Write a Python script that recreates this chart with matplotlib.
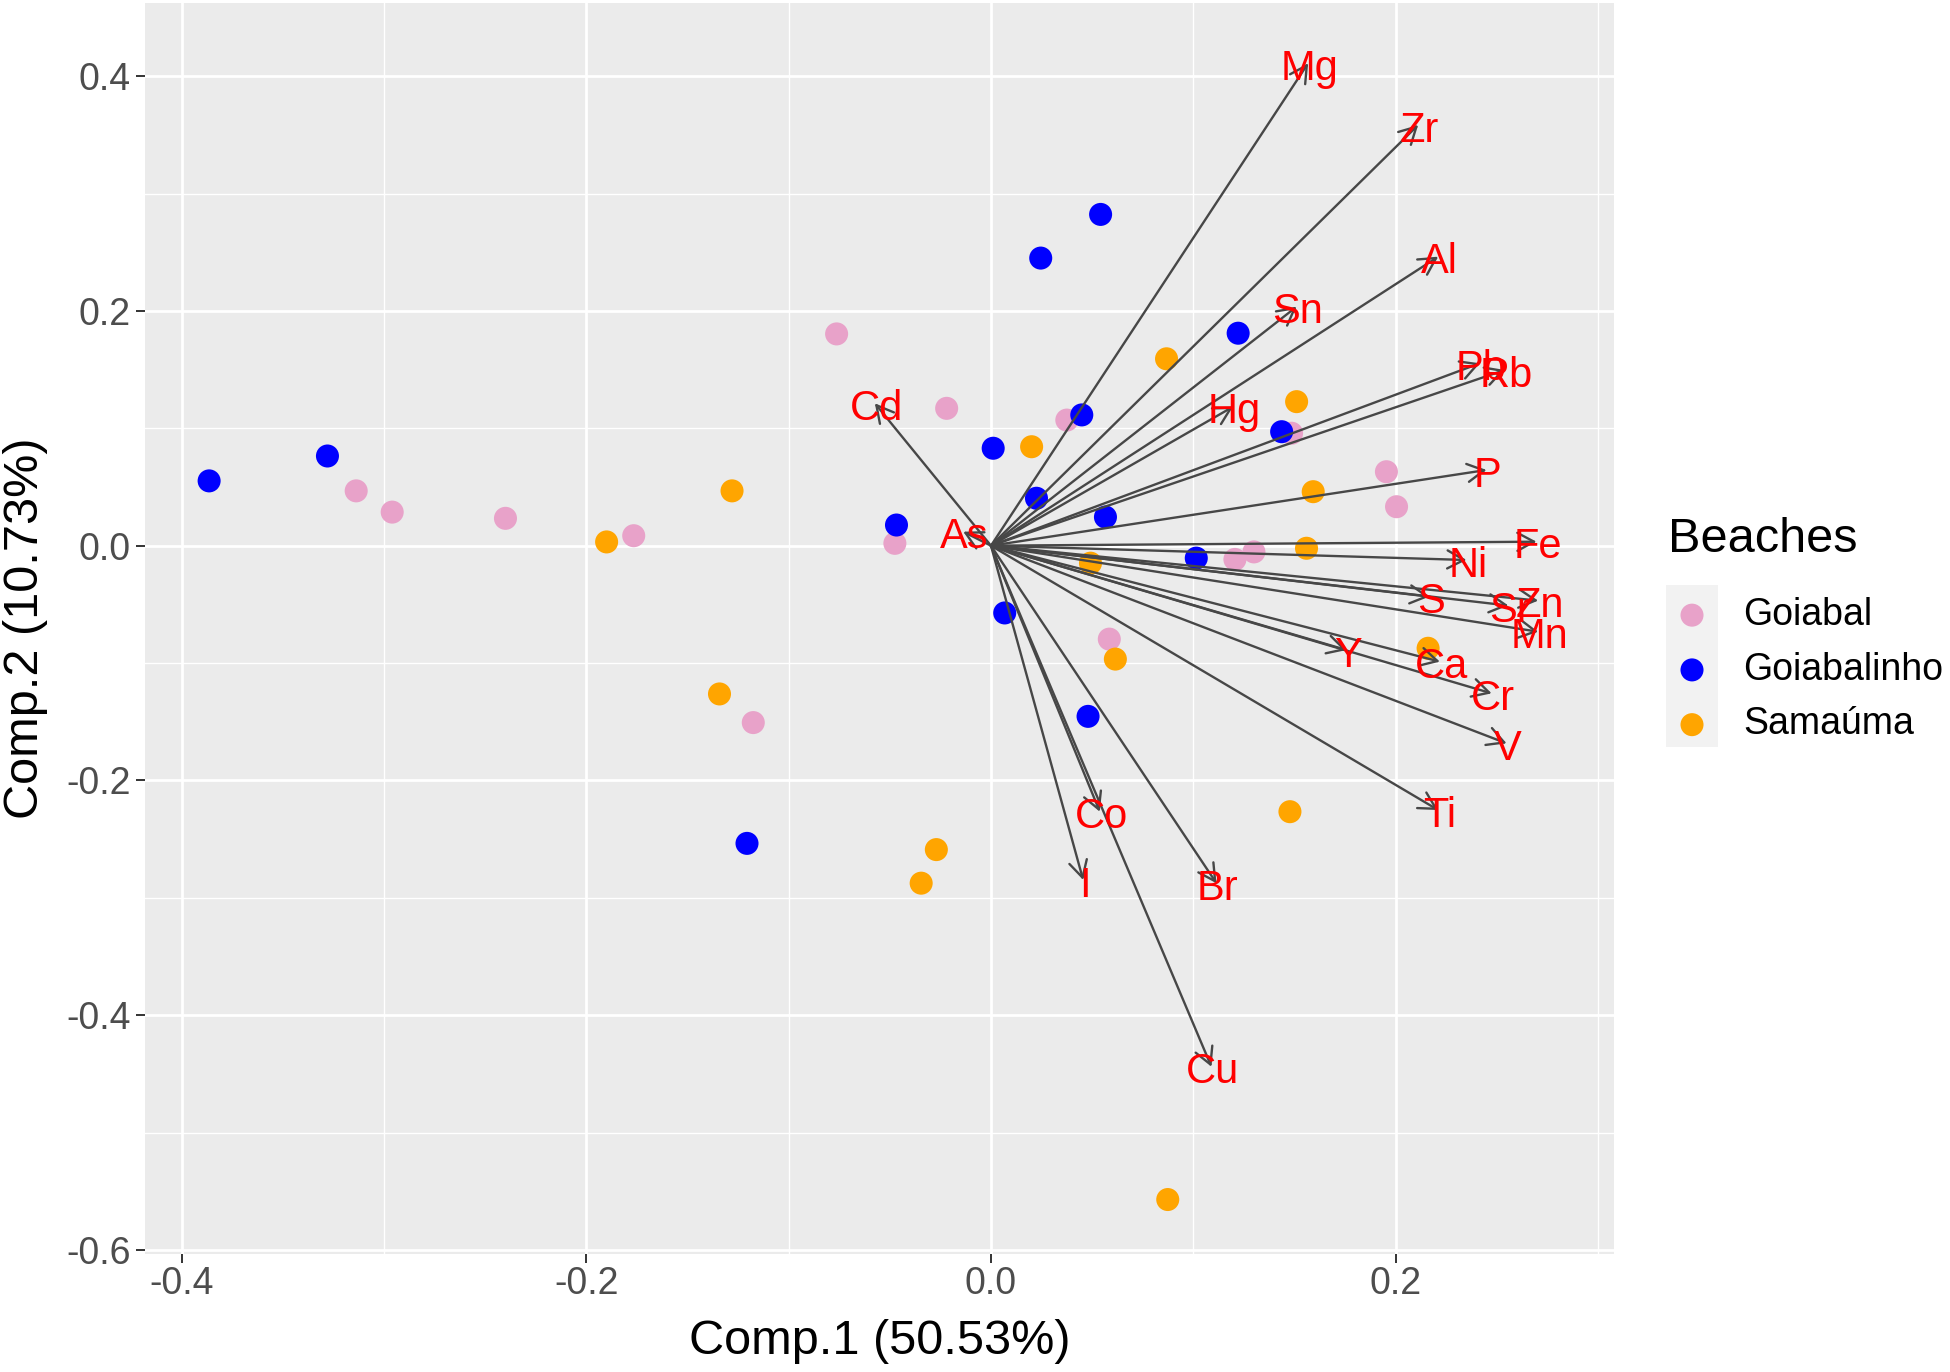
import matplotlib
matplotlib.use("Agg")
import matplotlib.pyplot as plt
from matplotlib.patches import FancyArrowPatch, Rectangle
import numpy as np

plt.rcParams['font.family'] = ['Liberation Sans', 'DejaVu Sans']

# ---------------- data ----------------
beaches = ["Goiabal", "Goiabalinho", "Samaúma"]
beach_colors = ["#E8A2C9", "#0000FF", "#FFA500"]

goiabal_x = [-0.3138, -0.296, -0.240, -0.1766, -0.0763, -0.0219, -0.0475, -0.1175,
             0.0375, 0.1486, 0.1955, 0.2005, 0.1206, 0.130, 0.0585]
goiabal_y = [0.0467, 0.0286, 0.0233, 0.0085, 0.1804, 0.117, 0.002, -0.1507,
             0.107, 0.0958, 0.063, 0.0332, -0.0117, -0.0053, -0.0796]

goiabalinho_x = [-0.3865, -0.328, -0.0467, 0.0011, 0.0246, 0.0542, 0.0449, 0.0225,
                 0.0566, 0.1222, 0.1437, 0.1015, 0.0068, 0.048, -0.1206]
goiabalinho_y = [0.0552, 0.0764, 0.0176, 0.083, 0.245, 0.2822, 0.1114, 0.0404,
                 0.0244, 0.181, 0.0971, -0.0106, -0.0573, -0.1454, -0.2536]

samauma_x = [-0.190, -0.128, -0.1342, -0.027, -0.0345, 0.0201, 0.0868, 0.1511,
             0.1593, 0.156, 0.0492, 0.0615, 0.2161, 0.1478, 0.0874]
samauma_y = [0.0032, 0.0467, -0.1263, -0.2589, -0.2875, 0.0843, 0.1592, 0.1227,
             0.046, -0.0022, -0.0149, -0.0966, -0.0874, -0.2266, -0.557]

elements = ["Mg", "Zr", "Al", "Sn", "Hg", "Pb", "Rb", "P", "Fe", "Ni", "S", "Sr",
            "Zn", "Mn", "Y", "Ca", "Cr", "V", "Ti", "Co", "I", "Br", "Cu", "Cd", "As"]
load_x = [0.1568, 0.2112, 0.2211, 0.1511, 0.1197, 0.2417, 0.2540, 0.2450, 0.2697,
          0.2351, 0.2167, 0.2558, 0.2705, 0.2705, 0.1758, 0.2219, 0.2475, 0.2549,
          0.2211, 0.0538, 0.0456, 0.1115, 0.1090, -0.0574, -0.0137]
load_y = [0.4110, 0.3584, 0.2462, 0.2036, 0.1184, 0.1554, 0.1497, 0.0645, 0.0034,
          -0.0122, -0.0434, -0.0510, -0.0468, -0.0733, -0.0889, -0.0988, -0.1258,
          -0.1684, -0.2252, -0.2266, -0.2848, -0.2876, -0.4439, 0.1213, 0.0119]

x_title = "Comp.1 (50.53%)"
y_title = "Comp.2 (10.73%)"
legend_title = "Beaches"
x_ticks = [-0.4, -0.2, 0.0, 0.2]
y_ticks = [-0.6, -0.4, -0.2, 0.0, 0.2, 0.4]
x_minor = [-0.3, -0.1, 0.1, 0.3]
y_minor = [-0.5, -0.3, -0.1, 0.1, 0.3]

# ---------------- figure ----------------
W, H = 1950, 1372
fig = plt.figure(figsize=(W / 100, H / 100), dpi=100)
ax = fig.add_axes([145 / W, 1 - 1254 / H, (1614 - 145) / W, (1254 - 3) / H])
ax.set_facecolor("#EBEBEB")
for s in ax.spines.values():
    s.set_visible(False)

ax.set_xlim(-0.4182, 0.308)
ax.set_ylim(-0.6034, 0.4623)
ax.set_xticks(x_ticks)
ax.set_yticks(y_ticks)
ax.set_xticks(x_minor, minor=True)
ax.set_yticks(y_minor, minor=True)
ax.set_xticklabels([f"{v:.1f}" for v in x_ticks])
ax.set_yticklabels([f"{v:.1f}" for v in y_ticks])
ax.grid(which="major", color="white", linewidth=2.0)
ax.grid(which="minor", color="white", linewidth=1.0)
ax.set_axisbelow(True)
ax.tick_params(which="major", length=6.5, width=1.4, color="#333333",
               labelsize=27, labelcolor="#4D4D4D")
ax.tick_params(axis="x", which="major", pad=2)
ax.tick_params(axis="y", which="major", pad=4)
ax.tick_params(which="minor", length=0)

groups_x = [goiabal_x, goiabalinho_x, samauma_x]
groups_y = [goiabal_y, goiabalinho_y, samauma_y]
handles = []
for name, col, gx, gy in zip(beaches, beach_colors, groups_x, groups_y):
    h = ax.scatter(gx, gy, s=275, color=col, edgecolors="none", zorder=2, label=name)
    handles.append(h)

for name, lx, ly in zip(elements, load_x, load_y):
    arr = FancyArrowPatch((0, 0), (lx, ly),
                          arrowstyle="->,head_length=12,head_width=6.5",
                          mutation_scale=1, color="#474747", linewidth=1.7,
                          shrinkA=0, shrinkB=0, zorder=3)
    ax.add_patch(arr)
for name, lx, ly in zip(elements, load_x, load_y):
    ax.annotate(name, (lx, ly), xytext=(1, -4), textcoords="offset points",
                color="#FF0000", fontsize=30, ha="center", va="center", zorder=4)

ax.set_xlabel(x_title, fontsize=35, color="black", va="center")
ax.set_ylabel(y_title, fontsize=35, color="black", va="center")
ax.xaxis.set_label_coords(0.5, (1254 - 1342) / 1251)
ax.yaxis.set_label_coords((26 - 145) / 1469, 0.5)

# legend
fig.patches.append(Rectangle((1666 / W, 1 - 747 / H), 52 / W, 162 / H,
                             transform=fig.transFigure, facecolor="#F2F2F2",
                             edgecolor="none", zorder=0))
leg = fig.legend(handles=handles, labels=beaches, loc="upper left",
                 bbox_to_anchor=(1666 / W, 1 - 597 / H), bbox_transform=fig.transFigure,
                 frameon=False, fontsize=27, borderpad=0, borderaxespad=0,
                 handlelength=52 / 37.5, handletextpad=0.68, labelspacing=0.50,
                 scatterpoints=1)
fig.text(1668 / W, 1 - 540 / H, legend_title, fontsize=35, ha="left", va="center")

fig.savefig("out.png", dpi=100)
